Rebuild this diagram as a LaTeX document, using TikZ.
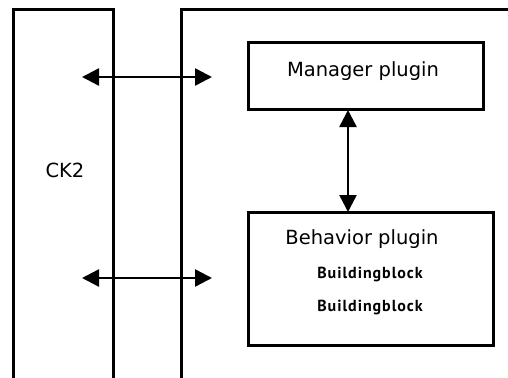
\documentclass[tikz,border=0pt]{standalone}
\usepackage{fontspec}
\setmainfont{DejaVu Sans}
\newfontfamily\blockfont[LetterSpace=6]{PT Sans}
\usetikzlibrary{arrows.meta}
\tikzset{
  frame/.style={line width=3pt, line cap=butt, line join=miter},
  plugbox/.style={draw, line width=3pt, outer sep=0pt, inner sep=0pt},
  label20/.style={font=\fontsize{19.5}{22}\selectfont, anchor=base, inner sep=0pt},
  blocklabel/.style={font=\blockfont\bfseries\fontsize{16}{18}\selectfont, anchor=base, inner sep=0pt},
  dblarrow/.style={line width=2.5pt, {Triangle[length=17pt,width=17pt]}-{Triangle[length=17pt,width=17pt]}}
}
\begin{document}
\begin{tikzpicture}[x=1pt, y=-1pt]
  \clip (0,0) rectangle (508,377);
  \fill[white] (0,0) rectangle (508,377);

  % left column (CK2), open at the bottom
  \coordinate (ckbl) at (13.5,385);
  \coordinate (cktl) at (13.5,10);
  \coordinate (cktr) at (113.5,10);
  \coordinate (ckbr) at (113.5,385);
  \draw[frame] (ckbl) -- (cktl) -- (cktr) -- (ckbr);

  % right frame, open at the bottom and the right
  \coordinate (rfbl) at (181.5,385);
  \coordinate (rftl) at (181.5,10);
  \coordinate (rftr) at (515,10);
  \draw[frame] (rfbl) -- (rftl) -- (rftr);

  \node[label20] (ck) at (65,177) {CK2};

  % plugin boxes
  \node[plugbox, minimum width=235pt, minimum height=67pt] (mgr) at (365.5,76.5) {};
  \node[label20] (mgrtext) at (363,76.5) {Manager plugin};

  \node[plugbox, minimum width=245pt, minimum height=133pt] (beh) at (370.5,278.5) {};
  \node[label20] (behtext) at (362,244.5) {Behavior plugin};
  \node[blocklabel] (bb1) at (370,278) {Buildingblock};
  \node[blocklabel] (bb2) at (370,311) {Buildingblock};

  % connectors
  \coordinate (vx) at (348,0);
  \draw[dblarrow] (mgr.south -| vx) -- (beh.north -| vx);

  \coordinate (upl) at (82,77);
  \coordinate (upr) at (212,77);
  \draw[dblarrow] (upl) -- (upr);

  \coordinate (lol) at (82,278);
  \coordinate (lor) at (212,278);
  \draw[dblarrow] (lol) -- (lor);
\end{tikzpicture}
\end{document}
